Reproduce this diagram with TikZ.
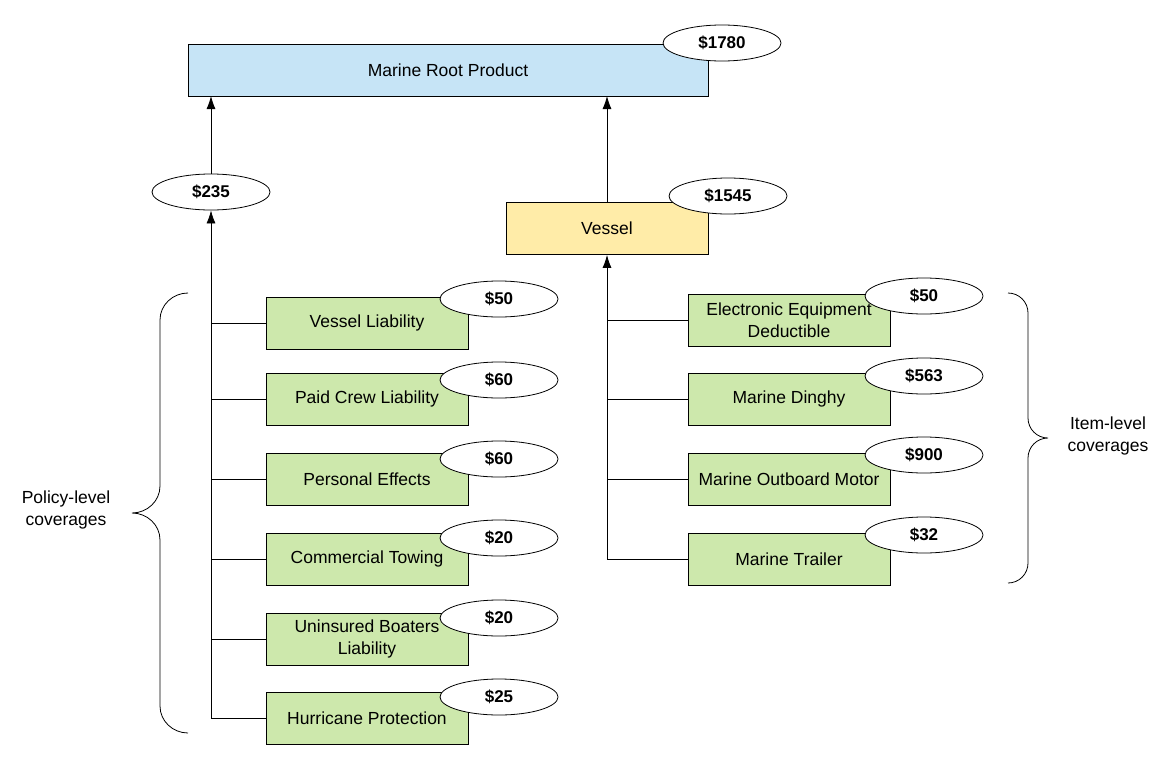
\documentclass[tikz,border=0pt]{standalone}
\usepackage{fontspec}
\setmainfont{Liberation Sans}
\usetikzlibrary{shapes.geometric,arrows.meta}
\definecolor{gfill}{RGB}{205,232,172}
\definecolor{bfill}{RGB}{198,228,246}
\definecolor{yfill}{RGB}{255,236,168}
\begin{document}
\begin{tikzpicture}[x=1pt,y=-1pt,
  every node/.style={font=\fontsize{17.5}{21.5}\selectfont},
  box/.style={draw,thick,minimum width=202pt,minimum height=52pt,align=center,inner sep=1pt},
  gbox/.style={box,fill=gfill},
  price/.style={draw,thick,ellipse,fill=white,minimum width=118pt,minimum height=36pt,inner sep=0pt,font=\fontsize{17}{20}\selectfont\bfseries},
  arr/.style={thick,-{Latex[length=13pt,width=9pt]}},
  ln/.style={thick}]
\useasboundingbox (0,0) rectangle (1175,779);
\node[box,fill=bfill,minimum width=520pt] (root) at (448,70) {Marine Root Product};
\node[price] (p1780) at (722,43) {\$1780};
\node[price] (p235) at (211,192) {\$235};
\node[box,fill=yfill] (vessel) at (607,228.5) {Vessel};
\node[price] (p1545) at (728,196) {\$1545};
\coordinate (rootL) at (211,96);
\coordinate (rootR) at (607,96);
\draw[arr] (p235.north) -- (rootL);
\draw[arr] (vessel.north) -- (rootR);
% left
\foreach \n/\y/\t/\p/\py in {a/323/Vessel Liability/50/299, b/399/Paid Crew Liability/60/380, c/479/Personal Effects/60/459, d/559/Commercial Towing/20/538, e/639/{Uninsured Boaters\\Liability}/20/618, f/718/Hurricane Protection/25/697}{
  \node[gbox] (L\n) at (367,\y) {\t};
  \node[price] (LP\n) at (499,\py) {\$\p};
  \coordinate (LT\n) at (211,\y);
  \draw[ln] (LT\n) -- (L\n.west);
}
\draw[arr] (LTf) -- (p235.south);
% right
\foreach \n/\y/\t/\p/\py in {a/320/{Electronic Equipment\\Deductible}/50/296, b/399/Marine Dinghy/563/376, c/479/Marine Outboard Motor/900/455, d/559/Marine Trailer/32/535}{
  \node[gbox] (R\n) at (789,\y) {\t};
  \node[price] (RP\n) at (924,\py) {\$\p};
  \coordinate (RT\n) at (607,\y);
  \draw[ln] (RT\n) -- (R\n.west);
}
\draw[arr] (RTd) -- (vessel.south);
% braces
\draw[thick] (188,293) to[out=180,in=90] (160,320) -- (160,486) to[out=-90,in=0] (132,513) to[out=0,in=90] (160,540) -- (160,706) to[out=-90,in=180] (188,733);
\node[align=center] (pl) at (66,510) {Policy-level\\coverages};
\draw[thick] (1008,293) to[out=0,in=90] (1028,313) -- (1028,418) to[out=-90,in=180] (1048,438) to[out=180,in=90] (1028,458) -- (1028,563) to[out=-90,in=0] (1008,583);
\node[align=center] (il) at (1108,436) {Item-level\\coverages};
\end{tikzpicture}
\end{document}
